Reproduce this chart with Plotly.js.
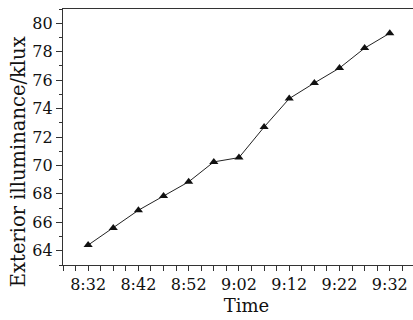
<!DOCTYPE html>
<html>
<head>
<meta charset="utf-8">
<script src="https://cdn.plot.ly/plotly-3.0.1.min.js"></script>
<style>
html, body { margin: 0; padding: 0; overflow: hidden; background: #fff; }
#chart { width: 430px; height: 320px; }
</style>
</head>
<body>
<div id="chart"></div>
<script>
const times = ['8:32','8:37','8:42','8:47','8:52','8:57','9:02','9:07','9:12','9:17','9:22','9:27','9:32'];
const illuminance = [64.4, 65.6, 66.85, 67.85, 68.85, 70.25, 70.55, 72.7, 74.7, 75.8, 76.85, 78.25, 79.3];
const xTitle = 'Time';
const yTitle = 'Exterior illuminance/klux';

function toDate(t) {
  const [h, m] = t.split(':');
  return '2024-01-01 ' + h.padStart(2, '0') + ':' + m.padStart(2, '0');
}

const font = { family: 'DejaVu Serif, serif', color: '#111' };

const trace = {
  x: times.map(toDate),
  y: illuminance,
  type: 'scatter',
  mode: 'lines+markers',
  line: { color: '#222', width: 1 },
  marker: { symbol: 'triangle-up', size: 8, color: '#111' },
  showlegend: false
};

const layout = {
  width: 430,
  height: 320,
  margin: { l: 63, r: 0, t: 9, b: 55 },
  paper_bgcolor: '#fff',
  plot_bgcolor: '#fff',
  font: font,
  xaxis: {
    type: 'date',
    range: [toDate('8:27'), toDate('9:40')],
    tick0: toDate('8:32'),
    dtick: 600000,
    tickformat: '%-H:%M',
    ticks: 'outside',
    ticklen: 5,
    tickwidth: 1,
    tickcolor: '#333',
    minor: { dtick: 150000, tick0: toDate('8:32'), ticks: 'outside', ticklen: 5, tickwidth: 1, tickcolor: '#333', showgrid: false },
    showgrid: false,
    zeroline: false,
    showline: true,
    linecolor: '#333',
    linewidth: 1.2,
    mirror: true,
    tickfont: { family: 'DejaVu Serif, serif', size: 16, color: '#111' },
    title: { text: xTitle, font: { family: 'DejaVu Serif, serif', size: 18, color: '#111' }, standoff: 6 }
  },
  yaxis: {
    range: [63, 81],
    dtick: 2,
    tick0: 64,
    ticks: 'outside',
    ticklen: 6,
    tickwidth: 1,
    tickcolor: '#333',
    minor: { dtick: 1, ticks: 'outside', ticklen: 3, tickwidth: 1, tickcolor: '#333', showgrid: false },
    showgrid: false,
    zeroline: false,
    showline: true,
    linecolor: '#333',
    linewidth: 1.2,
    tickfont: { family: 'DejaVu Serif, serif', size: 16, color: '#111' }
  },
  annotations: [{
    text: yTitle,
    xref: 'paper', yref: 'paper',
    x: -0.123, y: 0.405,
    xanchor: 'center', yanchor: 'middle',
    textangle: -90,
    showarrow: false,
    font: { family: 'DejaVu Serif, serif', size: 19.5, color: '#111' }
  }]
};

Plotly.newPlot('chart', [trace], layout, { displayModeBar: false, staticPlot: true });
</script>
</body>
</html>
